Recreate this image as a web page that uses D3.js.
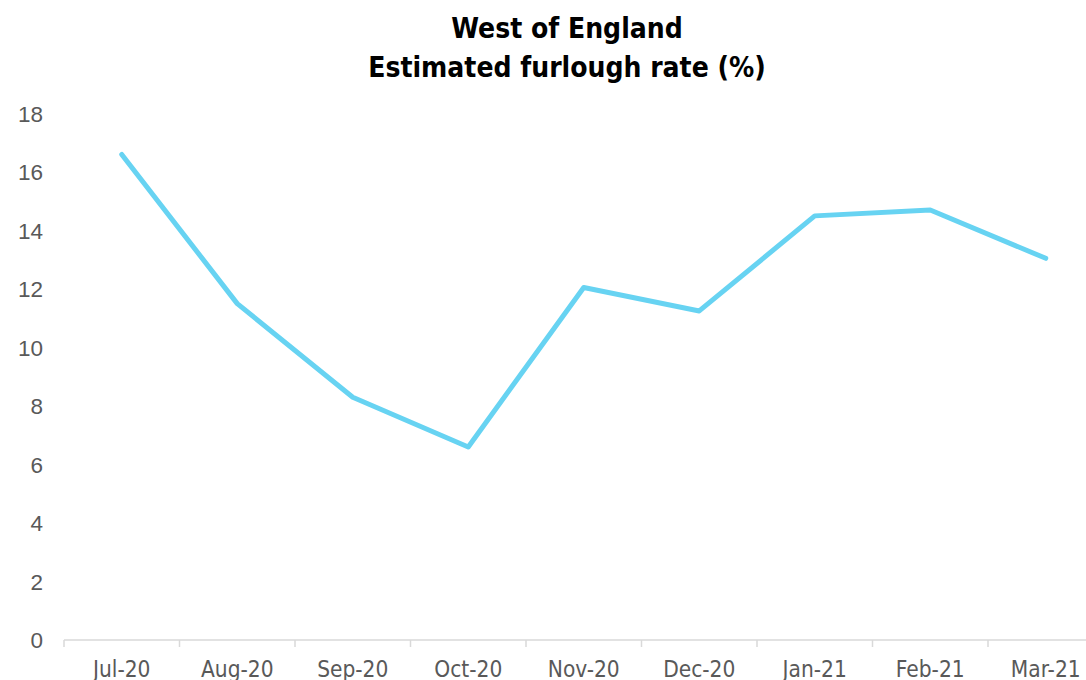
<!DOCTYPE html>
<html>
<head>
<meta charset="utf-8">
<script src="https://cdn.jsdelivr.net/npm/d3@7"></script>
<style>
  html, body { margin: 0; padding: 0; background: #fff; overflow: hidden; }
  svg { display: block; }
</style>
</head>
<body>
<svg id="chart" width="1086" height="680"></svg>
<script>
// Monthly estimated furlough rate, West of England
const months = ["Jul-20", "Aug-20", "Sep-20", "Oct-20", "Nov-20", "Dec-20", "Jan-21", "Feb-21", "Mar-21"];
const furloughRate = [16.6, 11.5, 8.3, 6.6, 12.05, 11.25, 14.5, 14.7, 13.05];
const yTicks = [0, 2, 4, 6, 8, 10, 12, 14, 16, 18];
const titleLines = ["West of England", "Estimated furlough rate (%)"];

const svg = d3.select("#chart");
const condensed = "'DejaVu Sans Condensed', 'DejaVu Sans', sans-serif";
const numFont = "'Liberation Sans', Arial, sans-serif";
const textColor = "#595959";

const x = d3.scaleBand().domain(months).range([64, 1103.5]).padding(0);
const y = d3.scaleLinear().domain([0, 18]).range([640, 113.5]);

// Title
svg.append("g").selectAll("text")
  .data(titleLines)
  .join("text")
  .attr("x", 567)
  .attr("y", (d, i) => 38 + i * 39)
  .attr("text-anchor", "middle")
  .attr("font-family", condensed)
  .attr("font-weight", "bold")
  .attr("font-size", 28)
  .attr("fill", "#000")
  .text(d => d);

// Y axis labels (no axis line)
const yAxis = svg.append("g")
  .attr("transform", "translate(43,0)")
  .call(d3.axisLeft(y).tickValues(yTicks).tickSize(0).tickPadding(0));
yAxis.select(".domain").remove();
yAxis.selectAll("text")
  .attr("font-family", numFont)
  .attr("font-size", 22.5)
  .attr("dy", "0.35em")
  .attr("fill", textColor);

// X axis with category boundary ticks
const xAxisG = svg.append("g").attr("transform", "translate(0,640)");
xAxisG.append("line")
  .attr("x1", 64).attr("x2", 1103.5)
  .attr("stroke", "#d9d9d9").attr("stroke-width", 1.5);
const boundaries = months.map(m => x(m)).concat([x(months[months.length - 1]) + x.bandwidth()]);
xAxisG.selectAll("line.tick")
  .data(boundaries)
  .join("line")
  .attr("class", "tick")
  .attr("x1", d => d).attr("x2", d => d)
  .attr("y1", 0).attr("y2", 7)
  .attr("stroke", "#d9d9d9").attr("stroke-width", 1.5);
xAxisG.selectAll("text")
  .data(months)
  .join("text")
  .attr("x", d => x(d) + x.bandwidth() / 2)
  .attr("y", 36.5)
  .attr("text-anchor", "middle")
  .attr("font-family", condensed)
  .attr("font-size", 22.5)
  .attr("fill", textColor)
  .text(d => d);

// Series line
const line = d3.line()
  .x((d, i) => x(months[i]) + x.bandwidth() / 2)
  .y(d => y(d));
svg.append("path")
  .datum(furloughRate)
  .attr("d", line)
  .attr("fill", "none")
  .attr("stroke", "#67d3f2")
  .attr("stroke-width", 5)
  .attr("stroke-linecap", "round")
  .attr("stroke-linejoin", "round");
</script>
</body>
</html>
